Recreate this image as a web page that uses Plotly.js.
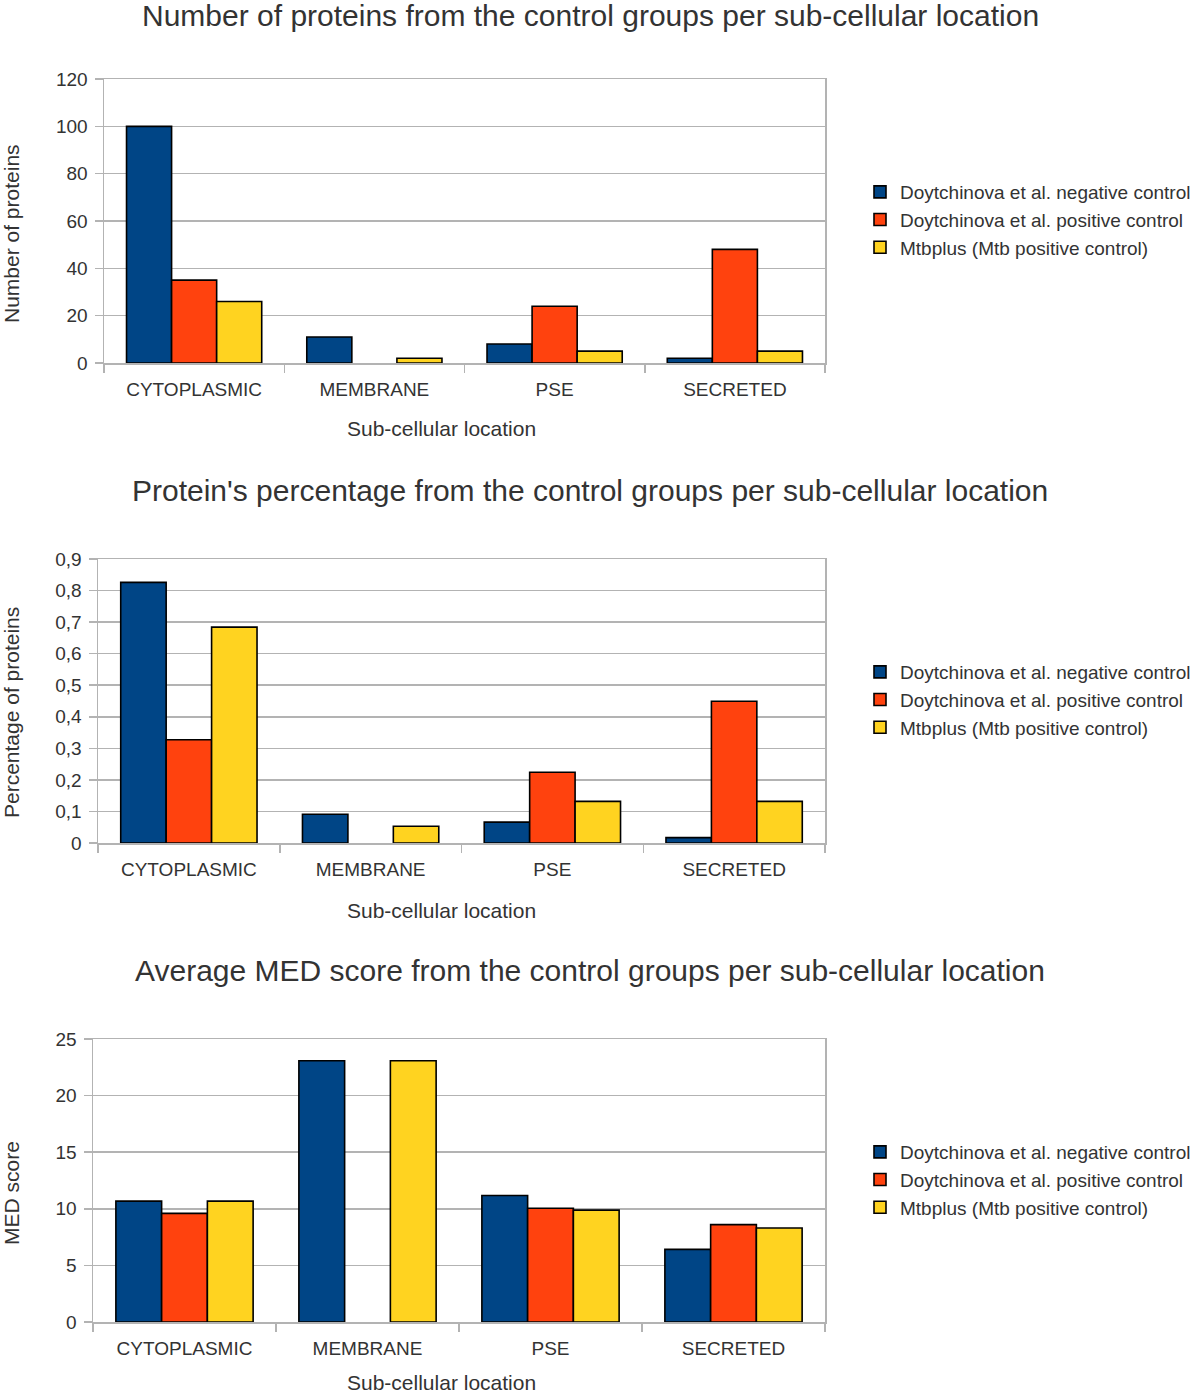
<!DOCTYPE html>
<html>
<head>
<meta charset="utf-8">
<script src="https://cdn.plot.ly/plotly-3.0.1.min.js"></script>
<style>
  html, body { margin: 0; padding: 0; background: #fff; }
  #chart { width: 1200px; height: 1396px; }
</style>
</head>
<body>
<div id="chart"></div>
<script>
// Data
const locations = ['CYTOPLASMIC', 'MEMBRANE', 'PSE', 'SECRETED'];
const seriesNames = [
    'Doytchinova et al. negative control',
    'Doytchinova et al. positive control',
    'Mtbplus (Mtb positive control)'
];
const seriesColors = ['#004586', '#ff420e', '#ffd320'];

// chart 1: number of proteins (no positive-control membrane proteins -> no bar)
const countNeg = [100, 11, 8, 2];
const countPos = [35, null, 24, 48];
const countMtb = [26, 2, 5, 5];

// chart 2: fraction of proteins
const pctNeg = [0.826, 0.091, 0.066, 0.017];
const pctPos = [0.327, null, 0.224, 0.449];
const pctMtb = [0.684, 0.053, 0.132, 0.132];

// chart 3: average MED score
const medNeg = [10.68, 23.08, 11.18, 6.42];
const medPos = [9.6, null, 10.05, 8.6];
const medMtb = [10.68, 23.08, 9.88, 8.3];

const W = 1200, H = 1396;
const px = x => x / W;
const py = y => 1 - y / H;

const fontFamily = 'Liberation Sans, Arial, sans-serif';
const textColor = '#333333';
const gridColor = '#b3b3b3';

const charts = [
    {values: [countNeg, countPos, countMtb], range: [0, 120], dtick: 20,
     left: 104, top: 79, bottom: 363, legendTop: 173,
     title: 'Number of proteins from the control groups per sub-cellular location', titleY: 15,
     yTitle: 'Number of proteins', yTitleY: 234, xTitleY: 428},
    {values: [pctNeg, pctPos, pctMtb], range: [0, 0.9], dtick: 0.1,
     left: 98, top: 559, bottom: 843, legendTop: 653,
     title: "Protein's percentage from the control groups per sub-cellular location", titleY: 490,
     yTitle: 'Percentage of proteins', yTitleY: 713, xTitleY: 910},
    {values: [medNeg, medPos, medMtb], range: [0, 25], dtick: 5,
     left: 93, top: 1039, bottom: 1322, legendTop: 1133,
     title: 'Average MED score from the control groups per sub-cellular location', titleY: 970,
     yTitle: 'MED score', yTitleY: 1193, xTitleY: 1382}
];

const traces = [];
const layout = {
    width: W, height: H,
    margin: {l: 0, r: 0, t: 0, b: 0},
    paper_bgcolor: '#ffffff',
    plot_bgcolor: '#ffffff',
    font: {family: fontFamily, size: 19, color: textColor},
    separators: ', ',
    barmode: 'group',
    bargap: 0.25,
    bargroupgap: 0,
    annotations: []
};

charts.forEach((c, ci) => {
    const suffix = ci === 0 ? '' : String(ci + 1);
    const legendKey = 'legend' + suffix;
    c.values.forEach((vals, si) => {
        traces.push({
            type: 'bar',
            x: locations,
            y: vals,
            name: seriesNames[si],
            xaxis: 'x' + suffix,
            yaxis: 'y' + suffix,
            legend: legendKey,
            marker: {color: seriesColors[si], line: {color: '#000000', width: 1.6}},
            hoverinfo: 'x+y+name'
        });
    });

    layout['xaxis' + suffix] = {
        domain: [px(c.left), px(825)],
        anchor: 'y' + suffix,
        type: 'category',
        showline: true, linecolor: gridColor, linewidth: 1.5, mirror: true,
        ticks: 'outside', tickson: 'boundaries', ticklen: 8, tickcolor: gridColor, tickwidth: 1.5,
        ticklabelstandoff: 9,
        showgrid: false,
        tickfont: {size: 19, color: textColor}
    };
    layout['yaxis' + suffix] = {
        domain: [py(c.bottom), py(c.top)],
        anchor: 'x' + suffix,
        range: c.range, dtick: c.dtick,
        showline: true, linecolor: gridColor, linewidth: 1.5, mirror: true,
        ticks: 'outside', ticklen: 8, tickcolor: gridColor, tickwidth: 1.5,
        ticklabelstandoff: 3,
        showgrid: true, gridcolor: gridColor, gridwidth: 1.5,
        zeroline: false,
        tickfont: {size: 19, color: textColor}
    };
    layout[legendKey] = {
        x: px(860), y: py(c.legendTop), xanchor: 'left', yanchor: 'top',
        font: {size: 19, color: textColor},
        traceorder: 'normal',
        bgcolor: 'rgba(0,0,0,0)'
    };

    layout.annotations.push(
        {text: c.title, xref: 'paper', yref: 'paper', x: px(590), y: py(c.titleY),
         xanchor: 'center', yanchor: 'middle', showarrow: false,
         font: {size: 30, color: textColor}},
        {text: 'Sub-cellular location', xref: 'paper', yref: 'paper', x: px(441), y: py(c.xTitleY),
         xanchor: 'center', yanchor: 'middle', showarrow: false,
         font: {size: 21, color: textColor}},
        {text: c.yTitle, xref: 'paper', yref: 'paper', x: px(11), y: py(c.yTitleY),
         xanchor: 'center', yanchor: 'middle', showarrow: false, textangle: -90,
         font: {size: 21, color: textColor}}
    );
});

Plotly.newPlot('chart', traces, layout, {displayModeBar: false, staticPlot: true});
</script>
</body>
</html>
